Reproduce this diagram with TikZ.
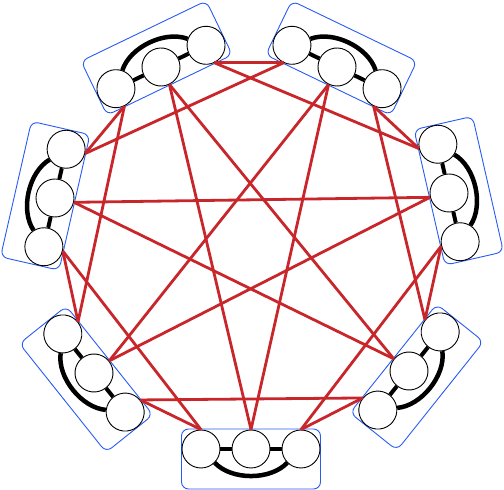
\documentclass[tikz,border=0pt]{standalone}
\definecolor{edgered}{RGB}{200,38,42}
\definecolor{boxblue}{RGB}{40,90,245}
\tikzset{
  vtx/.style={circle, draw=black, fill=white, line width=0.9pt, minimum size=38pt, inner sep=0pt, transform shape},
  grpbox/.style={draw=boxblue, line width=0.9pt, rounded corners=7pt},
  link/.style={draw=black, line width=4pt},
  arcl/.style={draw=black, line width=4.5pt},
  redl/.style={draw=edgered, line width=2.8pt},
}
\begin{document}
\begin{tikzpicture}[x=1pt,y=1pt]
\useasboundingbox (0,0) rectangle (504,490);
\foreach \k/\mx/\my/\ph in {0/251/41/-90, 1/409/119/-38.571, 2/449/297/12.857, 3/337/423/64.286, 4/161/423/115.714, 5/55/292/167.143, 6/94/117/218.571} {
  \begin{scope}[shift={(\mx,\my)}, rotate=\ph+90]
    \draw[grpbox] (-69.5,-40) rectangle (69.5,20);
    \node[vtx] (g\k a) at (-50,0) {};
    \node[vtx] (g\k b) at (0,0) {};
    \node[vtx] (g\k c) at (50,0) {};
    \draw[link] (g\k a) -- (g\k b);
    \draw[link] (g\k b) -- (g\k c);
    \draw[arcl] (g\k a.-45) .. controls (-19.5,-31.5) and (19.5,-31.5) .. (g\k c.-135);
  \end{scope}
}
% distance 1: c(i) -- a(i+1)
\foreach \i/\j in {0/1,1/2,2/3,3/4,4/5,5/6,6/0} {
  \draw[redl] (g\i c.north) -- (g\j a.north);
}
% distance 2: c(i) -- a(i+2)
\foreach \i/\j in {0/2,1/3,2/4,3/5,4/6,5/0,6/1} {
  \draw[redl] (g\i c.north) -- (g\j a.north);
}
% distance 3: b(i) -- b(i+3)
\foreach \i/\j in {0/3,1/4,2/5,3/6,4/0,5/1,6/2} {
  \draw[redl] (g\i b.north) -- (g\j b.north);
}
\end{tikzpicture}
\end{document}
